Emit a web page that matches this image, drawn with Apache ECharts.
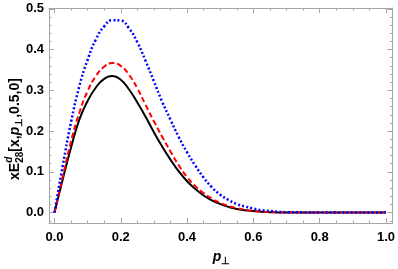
<!DOCTYPE html>
<html><head><meta charset="utf-8">
<script src="https://cdn.jsdelivr.net/npm/echarts@6/dist/echarts.min.js"></script>
<style>html,body{margin:0;padding:0;background:#fff}#c{width:398px;height:269px}</style>
</head><body><div id="c"></div>
<script>
// p_perp grid
const P = [0,0.025,0.05,0.075,0.1,0.125,0.15,0.175,0.2,0.225,0.25,0.275,0.3,0.325,0.35,0.375,0.4,0.425,0.45,0.475,0.5,0.525,0.55,0.575,0.6,0.625,0.65,0.675,0.7,0.75,0.8,0.85,0.9,0.95,1.0];
const black = [0,0.082,0.160,0.228,0.274,0.307,0.328,0.335,0.326,0.302,0.270,0.235,0.197,0.162,0.130,0.101,0.077,0.058,0.042,0.030,0.021,0.014,0.009,0.006,0.004,0.002,0.001,0.0005,0,0,0,0,0,0,0];
const red   = [0,0.088,0.175,0.245,0.298,0.335,0.358,0.367,0.360,0.338,0.305,0.264,0.224,0.186,0.150,0.116,0.087,0.065,0.048,0.034,0.024,0.016,0.011,0.007,0.004,0.002,0.001,0.0005,0,0,0,0,0,0,0];
const blue  = [0,0.115,0.222,0.310,0.375,0.425,0.457,0.472,0.471,0.452,0.418,0.372,0.322,0.272,0.228,0.185,0.148,0.115,0.086,0.062,0.044,0.031,0.021,0.015,0.010,0.006,0.004,0.002,0.001,0.0005,0,0,0,0,0];
const xMajor = [0,0.2,0.4,0.6,0.8,1.0];
const xMinor = [0.05,0.1,0.15,0.25,0.3,0.35,0.45,0.5,0.55,0.65,0.7,0.75,0.85,0.9,0.95];
const yMajor = [0,0.1,0.2,0.3,0.4,0.5];
const yMinor = [-0.02,0.02,0.04,0.06,0.08,0.12,0.14,0.16,0.18,0.22,0.24,0.26,0.28,0.32,0.34,0.36,0.38,0.42,0.44,0.46,0.48];

const F = '"Liberation Sans", Arial, sans-serif';
const FRAME = '#a6a6a6';
const X0 = -0.0165, X1 = 1.0195, Y0 = -0.0255, Y1 = 0.502;

function xa(pos, vals, len, line, labels){
  return {type:'value', position:pos, min:X0, max:X1,
    axisLine:{show:line, onZero:false, lineStyle:{color:FRAME, width:1}},
    axisTick:{show:true, inside:true, length:len, customValues:vals, lineStyle:{color:FRAME}},
    axisLabel:{show:labels, customValues:xMajor, margin:8, color:'#000', fontFamily:F, fontWeight:'bold', fontSize:13,
      formatter:v=>v.toFixed(1)},
    splitLine:{show:false}};
}
function ya(pos, vals, len, line, labels){
  return {type:'value', position:pos, min:Y0, max:Y1,
    axisLine:{show:line, onZero:false, lineStyle:{color:FRAME, width:1}},
    axisTick:{show:true, inside:true, length:len, customValues:vals, lineStyle:{color:FRAME}},
    axisLabel:{show:labels, customValues:yMajor, margin:5, color:'#000', fontFamily:F, fontWeight:'bold', fontSize:13,
      formatter:v=>v.toFixed(1)},
    splitLine:{show:false}};
}

// text layout helper for titles
const cv = document.createElement('canvas').getContext('2d');
function layout(pieces){
  let x = 0, items = [];
  let i = 0;
  while (i < pieces.length){
    const p = pieces[i];
    cv.font = p.font;
    let w = cv.measureText(p.t).width;
    items.push({t:p.t, font:p.font, s:p.s, x:x, dy:p.dy});
    if (p.stackNext){
      const q = pieces[i+1]; cv.font = q.font;
      const w2 = cv.measureText(q.t).width;
      items.push({t:q.t, font:q.font, s:q.s, x:x, dy:q.dy});
      w = Math.max(w, w2); i++;
    }
    x += w + (p.gap||0); i++;
  }
  return {items, width:x};
}
function makeTitle(pieces, cx, cy, rot){
  const L = layout(pieces);
  return {type:'group', x:cx, y:cy, rotation:rot,
    children: L.items.map(it=>({type:'text', x:it.x - L.width/2, y:it.dy - 0.33*it.s,
      style:{text:it.t, font:it.font, fill:'#000', verticalAlign:'middle', align:'left'}}))};
}
const B14 = 'bold 14px ' + F, BI14 = 'italic bold 14px ' + F, B10 = 'bold 10px ' + F, BI10 = 'italic bold 10px ' + F;
const yTitle = [
  {t:'x', font:B14, s:14, dy:0},
  {t:'E', font:B14, s:14, dy:0},
  {t:'d', font:BI10, s:10, dy:-7, stackNext:true},
  {t:'28', font:B10, s:10, dy:3.5},
  {t:'[x,', font:B14, s:14, dy:0},
  {t:'p', font:BI14, s:14, dy:0},
  {t:'\u22a5', font:B10, s:10, dy:3},
  {t:',0.5,0]', font:B14, s:14, dy:0}
];
const xTitle = [
  {t:'p', font:BI14, s:14, dy:0},
  {t:'\u22a5', font:B10, s:10, dy:3}
];

const chart = echarts.init(document.getElementById('c'), null, {renderer:'canvas'});
chart.setOption({
  animation:false,
  grid:{left:49, top:8, width:345, height:215, containLabel:false},
  xAxis:[xa('bottom', xMajor, 5, true, true), xa('bottom', xMinor, 2.5, false, false),
         xa('top', xMajor, 5, true, false), xa('top', xMinor, 2.5, false, false)],
  yAxis:[ya('left', yMajor, 5, true, true), ya('left', yMinor, 2.5, false, false),
         ya('right', yMajor, 5, true, false), ya('right', yMinor, 2.5, false, false)],
  series:[
    {type:'line', name:'black', data:P.map((p,i)=>[p,black[i]]), showSymbol:false, smooth:true,
     lineStyle:{color:'#000', width:2}},
    {type:'line', name:'red', data:P.map((p,i)=>[p,red[i]]), showSymbol:false, smooth:true,
     lineStyle:{color:'#ff0000', width:2, type:[5.5,3]}},
    {type:'line', name:'blue', data:P.map((p,i)=>[p,blue[i]]), showSymbol:false, smooth:true,
     lineStyle:{color:'#0000ff', width:2.5, type:[2,2.2]}}
  ],
  graphic:[
    makeTitle(yTitle, 20, 129, Math.PI/2),
    makeTitle(xTitle, 221.5, 262, 0)
  ]
});
</script></body></html>
